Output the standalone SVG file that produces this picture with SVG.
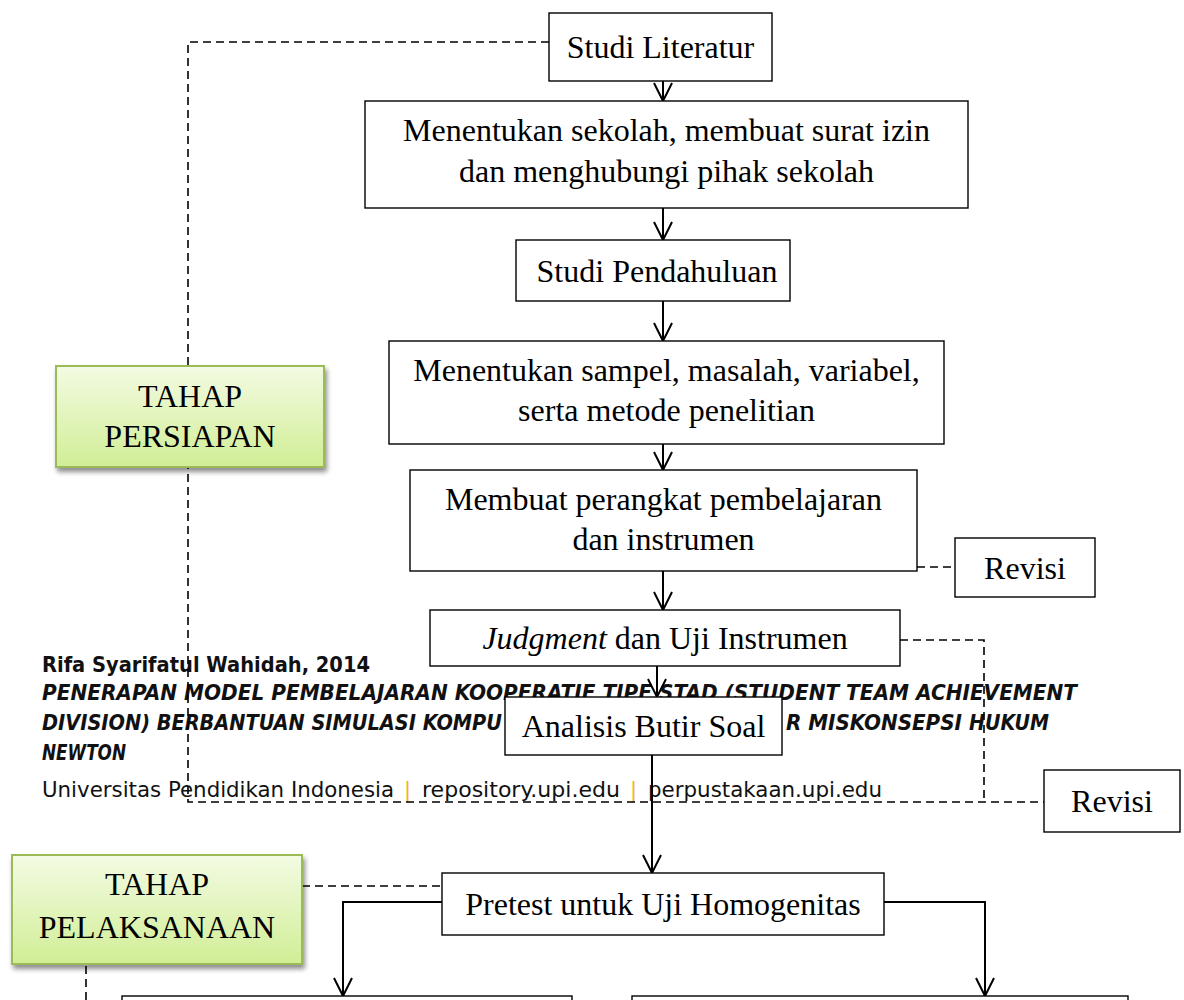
<svg xmlns="http://www.w3.org/2000/svg" width="1184" height="1000" viewBox="0 0 1184 1000">
<style>
.box{fill:#fff;stroke:#000;stroke-width:1.4}
.t{font-family:"Liberation Serif","Times New Roman",serif;font-size:32px;fill:#000;text-anchor:middle}
.green{fill:url(#gg);stroke:#9bbb59;stroke-width:2;filter:url(#sh)}
.ft{font-family:"DejaVu Sans",Tahoma,sans-serif;font-size:21px;fill:#111}
.fb{font-weight:bold}
.fi{font-style:italic}
.bar{font-family:"DejaVu Sans",sans-serif;font-size:21px;fill:#f2b41c}
.arr{fill:none;stroke:#000;stroke-width:2;marker-end:url(#ah)}
.dash{fill:none;stroke:#000;stroke-width:1.6;stroke-dasharray:8 5}
</style>
<defs>
<linearGradient id="gg" x1="0" y1="0" x2="0" y2="1">
<stop offset="0" stop-color="#f3fbe3"/>
<stop offset="1" stop-color="#d1ee95"/>
</linearGradient>
<filter id="sh" x="-10%" y="-10%" width="130%" height="130%">
<feGaussianBlur in="SourceAlpha" stdDeviation="2.5"/>
<feOffset dx="2" dy="4" result="b"/>
<feComponentTransfer><feFuncA type="linear" slope="0.45"/></feComponentTransfer>
<feMerge><feMergeNode/><feMergeNode in="SourceGraphic"/></feMerge>
</filter>
<marker id="ah" markerUnits="userSpaceOnUse" viewBox="0 0 20 20" markerWidth="20" markerHeight="20" refX="19" refY="10" orient="auto">
<path d="M1,1 L19,10 L1,19" fill="none" stroke="#000" stroke-width="2"/>
</marker>
</defs>

<g id="footer">
<text class="ft fb" x="42" y="672" textLength="328" lengthAdjust="spacingAndGlyphs">Rifa Syarifatul Wahidah, 2014</text>
<text class="ft fb fi" x="42" y="700" textLength="1035" lengthAdjust="spacingAndGlyphs">PENERAPAN MODEL PEMBELAJARAN KOOPERATIF TIPE STAD (STUDENT TEAM ACHIEVEMENT</text>
<text class="ft fb fi" x="42" y="730" textLength="460" lengthAdjust="spacingAndGlyphs">DIVISION) BERBANTUAN SIMULASI KOMPU</text>
<text class="ft fb fi" y="730"><tspan x="786" textLength="176" lengthAdjust="spacingAndGlyphs">R MISKONSEPSI</tspan><tspan x="969" textLength="80" lengthAdjust="spacingAndGlyphs">HUKUM</tspan></text>
<text class="ft fb fi" x="42" y="760" textLength="84" lengthAdjust="spacingAndGlyphs">NEWTON</text>
<text class="ft" x="42" y="797" textLength="352" lengthAdjust="spacingAndGlyphs">Universitas Pendidikan Indonesia</text>
<text class="bar" x="404" y="797">|</text>
<text class="ft" x="422" y="797" textLength="198" lengthAdjust="spacingAndGlyphs">repository.upi.edu</text>
<text class="bar" x="630" y="797">|</text>
<text class="ft" x="648" y="797" textLength="234" lengthAdjust="spacingAndGlyphs">perpustakaan.upi.edu</text>
</g>

<g id="connectors">
<path class="arr" d="M663,81 V101"/>
<path class="arr" d="M663,208 V240"/>
<path class="arr" d="M663,301 V341"/>
<path class="arr" d="M663,444 V470"/>
<path class="arr" d="M663,571 V610"/>
<path class="arr" d="M657,666 V697"/>
<path class="arr" d="M652,755 V873"/>
<path class="arr" d="M442,902 H343 V996"/>
<path class="arr" d="M884,902 H985 V996"/>
<path class="dash" d="M549,42 H188 V802 H1044"/>
<path class="dash" d="M900,640 H984 V802"/>
<path class="dash" d="M917,567 H955"/>
<path class="dash" d="M302,886 H442"/>
<path class="dash" d="M86,966 V1000"/>
</g>

<g id="n-studi-literatur">
<rect class="box" x="549" y="13" width="223" height="68"/>
<text class="t" x="660.5" y="58">Studi Literatur</text>
</g>
<g id="n-menentukan-sekolah">
<rect class="box" x="365" y="101" width="603" height="107"/>
<text class="t" x="666.5" y="141">Menentukan sekolah, membuat surat izin</text>
<text class="t" x="666.5" y="182">dan menghubungi pihak sekolah</text>
</g>
<g id="n-studi-pendahuluan">
<rect class="box" x="516" y="240" width="274" height="61"/>
<text class="t" x="657" y="282">Studi Pendahuluan</text>
</g>
<g id="n-menentukan-sampel">
<rect class="box" x="389" y="341" width="555" height="103"/>
<text class="t" x="666.5" y="381">Menentukan sampel, masalah, variabel,</text>
<text class="t" x="666.5" y="421">serta metode penelitian</text>
</g>
<g id="n-membuat-perangkat">
<rect class="box" x="410" y="470" width="507" height="101"/>
<text class="t" x="663.5" y="510">Membuat perangkat pembelajaran</text>
<text class="t" x="663.5" y="550">dan instrumen</text>
</g>
<g id="n-revisi-1">
<rect class="box" x="955" y="538" width="140" height="59"/>
<text class="t" x="1025" y="579">Revisi</text>
</g>
<g id="n-judgment">
<rect class="box" x="430" y="610" width="470" height="56"/>
<text class="t" x="665" y="649"><tspan font-style="italic">Judgment</tspan> dan Uji Instrumen</text>
</g>
<g id="n-analisis">
<rect class="box" x="505" y="697" width="277" height="58"/>
<text class="t" x="643.5" y="737">Analisis Butir Soal</text>
</g>
<g id="n-revisi-2">
<rect class="box" x="1044" y="770" width="136" height="62"/>
<text class="t" x="1112" y="812">Revisi</text>
</g>
<g id="n-pretest">
<rect class="box" x="442" y="873" width="442" height="62"/>
<text class="t" x="663" y="915">Pretest untuk Uji Homogenitas</text>
</g>
<g id="n-tahap-persiapan">
<rect class="green" x="56" y="366" width="268" height="101"/>
<text class="t" x="190" y="407">TAHAP</text>
<text class="t" x="190" y="447">PERSIAPAN</text>
</g>
<g id="n-tahap-pelaksanaan">
<rect class="green" x="12" y="855" width="290" height="109"/>
<text class="t" x="157" y="895">TAHAP</text>
<text class="t" x="157" y="938">PELAKSANAAN</text>
</g>
<g id="n-bottom-left">
<rect class="box" x="122" y="996" width="450" height="20"/>
</g>
<g id="n-bottom-right">
<rect class="box" x="632" y="996" width="496" height="20"/>
</g>
</svg>
